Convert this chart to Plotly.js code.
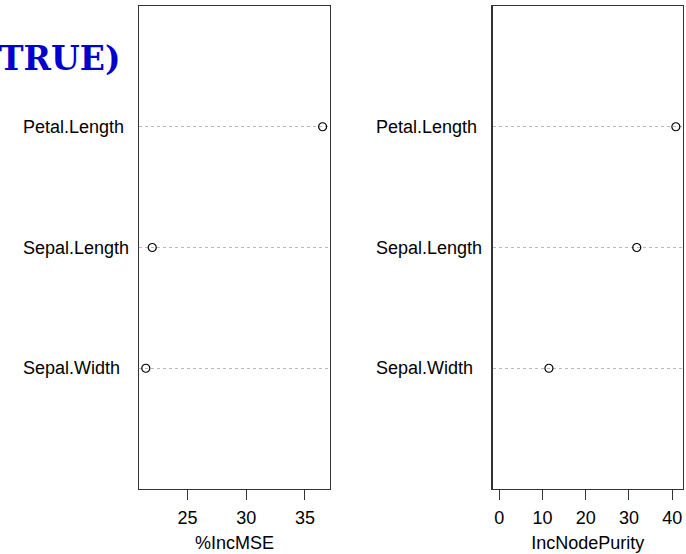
<!DOCTYPE html>
<html>
<head>
<meta charset="utf-8">
<script src="https://cdn.plot.ly/plotly-3.0.1.min.js"></script>
<style>html,body{margin:0;padding:0;background:#fff;}#chart{width:686px;height:554px;}</style>
</head>
<body>
<div id="chart"></div>
<script>
// Data (top to bottom order as plotted)
const variables = ["Petal.Length", "Sepal.Length", "Sepal.Width"];
const positions = [3, 2, 1];
const incMSE = [36.5, 22.0, 21.45];
const incNodePurity = [40.85, 31.8, 11.5];
const msetickvals = [25, 30, 35];
const puritytickvals = [0, 10, 20, 30, 40];
const titleText = "TRUE)";

const markerStyle = {symbol: "circle-open", size: 8, color: "#000", line: {width: 1.2, color: "#000"}};

const traces = [
  {x: incMSE, y: positions, type: "scatter", mode: "markers", marker: markerStyle, xaxis: "x", yaxis: "y", hoverinfo: "x+text", text: variables},
  {x: incNodePurity, y: positions, type: "scatter", mode: "markers", marker: markerStyle, xaxis: "x2", yaxis: "y2", hoverinfo: "x+text", text: variables}
];

const W = 686, H = 554;
const yDomain = [1 - 489 / H, 1 - 6 / H];
const font = {family: "Liberation Sans, Arial, sans-serif", size: 18, color: "#000"};

function xAxis(domain, range, tickvals, title, anchor) {
  return {
    domain: domain, range: range, anchor: anchor,
    tickvals: tickvals, ticktext: tickvals.map(String),
    ticks: "outside", ticklen: 10, tickwidth: 1, tickcolor: "#333",
    ticklabelstandoff: 2,
    showline: true, mirror: true, linecolor: "#333", linewidth: 1.3,
    showgrid: false, zeroline: false,
    tickfont: font,
    title: {text: title, font: font, standoff: 9}
  };
}
function yAxis(anchor) {
  return {
    domain: yDomain, range: [0, 4], anchor: anchor,
    tickvals: positions, showticklabels: false, ticks: "",
    showgrid: true, gridcolor: "#b8b8b8", griddash: "dot", gridwidth: 1,
    showline: true, mirror: true, linecolor: "#333", linewidth: 1.3,
    zeroline: false
  };
}

const annotations = [];
variables.forEach((v, i) => {
  annotations.push({text: v, x: 21 / W, xref: "paper", y: positions[i], yref: "y", xanchor: "left", yanchor: "middle", showarrow: false, font: font});
  annotations.push({text: v, x: 374 / W, xref: "paper", y: positions[i], yref: "y2", xanchor: "left", yanchor: "middle", showarrow: false, font: font});
});
annotations.push({text: "<b>" + titleText + "</b>", x: 0, xref: "paper", y: 1 - 58 / H, yref: "paper", xanchor: "left", yanchor: "middle", showarrow: false, xshift: -3,
  font: {family: "DejaVu Serif, serif", size: 33, color: "#0000CC"}});

const layout = {
  width: W, height: H,
  margin: {l: 0, r: 0, t: 0, b: 0},
  paper_bgcolor: "#fff", plot_bgcolor: "#fff",
  showlegend: false,
  font: font,
  xaxis: xAxis([139 / W, 330 / W], [20.87, 37.13], msetickvals, "%IncMSE", "y"),
  yaxis: yAxis("x"),
  xaxis2: xAxis([492.5 / W, 683 / W], [-1.55, 42.5], puritytickvals, "IncNodePurity", "y2"),
  yaxis2: yAxis("x2"),
  annotations: annotations
};

Plotly.newPlot("chart", traces, layout, {displayModeBar: false, staticPlot: true});
</script>
</body>
</html>
